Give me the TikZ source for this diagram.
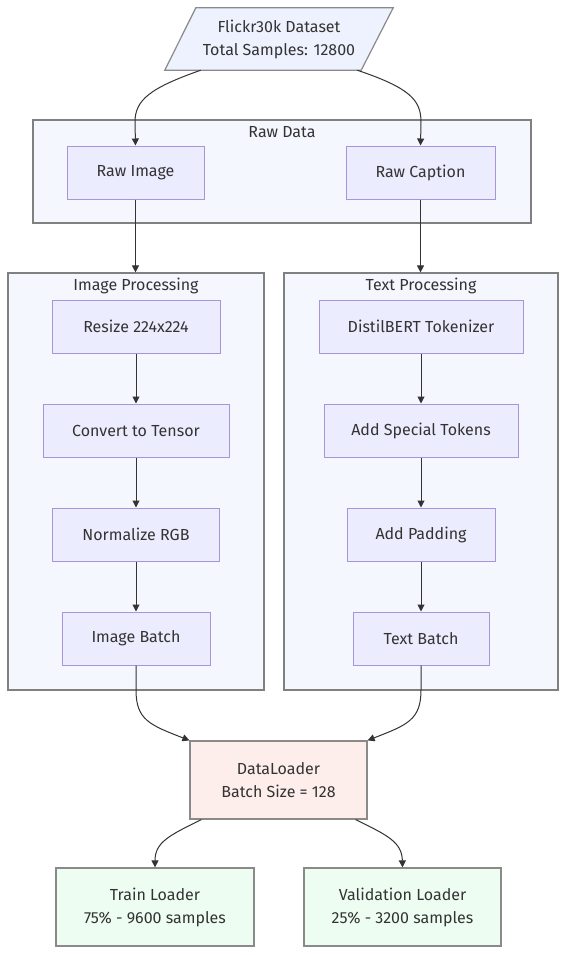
\documentclass[tikz,border=0pt]{standalone}
\usepackage{fontspec}
\setmainfont{Fira Sans}
\usetikzlibrary{arrows.meta,calc}
\definecolor{txt}{HTML}{333333}
\definecolor{nodefill}{HTML}{ECECFF}
\definecolor{nodeline}{HTML}{A795DC}
\definecolor{clfill}{HTML}{F5F7FF}
\definecolor{clline}{HTML}{808080}
\definecolor{dsfill}{HTML}{EDF2FE}
\definecolor{dlfill}{HTML}{FDEEEC}
\definecolor{grfill}{HTML}{EEFDF1}
\definecolor{grayline}{HTML}{8A8A8A}
\definecolor{edge}{HTML}{333333}
\begin{document}
\begin{tikzpicture}[x=1pt,y=-1pt,
  every node/.style={font=\fontsize{16}{23}\selectfont, text=txt, align=center, inner sep=0pt},
  proc/.style={draw=nodeline, fill=nodefill, line width=1pt, minimum height=53},
  cluster/.style={draw=clline, fill=clfill, line width=1.2pt},
  bigbox/.style={draw=grayline, line width=1.2pt, minimum height=78},
  conn/.style={draw=edge, line width=1pt, -{Triangle[length=7pt,width=7pt]}}
]
\useasboundingbox (0,0) rectangle (567,955);
\fill[white] (0,0) rectangle (567,955);

% clusters
\node[cluster, minimum width=498, minimum height=103] (rawc) at (282,171.5) {};
\node (rawt) at (282,132) {Raw Data};
\node[cluster, minimum width=256, minimum height=417] (imgc) at (136,481.5) {};
\node (imgt) at (136,286) {Image Processing};
\node[cluster, minimum width=274, minimum height=417] (txtc) at (421,481.5) {};
\node (txtt) at (421,286) {Text Processing};

% dataset parallelogram
\node (ds) [minimum width=196, minimum height=62] at (279,39) {};
\draw[draw=grayline, fill=dsfill, line width=1.2pt]
  ($(ds.south west)+(-16,0)$) -- ($(ds.north west)+(15,0)$) -- ($(ds.north east)+(16,0)$) -- ($(ds.south east)+(-16,0)$) -- cycle;
\node (dstext) at (ds.center) {Flickr30k Dataset\\Total Samples: 12800};

% raw data nodes
\node[proc, minimum width=137] (ri) at (135.5,172.5) {Raw Image};
\node[proc, minimum width=149] (rc) at (420.5,172.5) {Raw Caption};

% image processing
\node[proc, minimum width=168] (rs) at (136,326.5) {Resize 224x224};
\node[proc, minimum width=186] (ct) at (136,430.5) {Convert to Tensor};
\node[proc, minimum width=167] (nr) at (136,534.5) {Normalize RGB};
\node[proc, minimum width=148] (ib) at (136,638.5) {Image Batch};

% text processing
\node[proc, minimum width=204] (tk) at (421,326.5) {DistilBERT Tokenizer};
\node[proc, minimum width=194] (st) at (421,430.5) {Add Special Tokens};
\node[proc, minimum width=148] (pd) at (421,534.5) {Add Padding};
\node[proc, minimum width=136] (tb) at (421,638.5) {Text Batch};

% dataloader and outputs
\node[bigbox, fill=dlfill, minimum width=177] (dl) at (278.5,780) {DataLoader\\Batch Size = 128};
\node[bigbox, fill=grfill, minimum width=198] (tr) at (155,907) {Train Loader\\75\% - 9600 samples};
\node[bigbox, fill=grfill, minimum width=197] (vl) at (402.5,907) {Validation Loader\\25\% - 3200 samples};

% edges
\draw[conn] ($(ds.south west)+(20,0)$) .. controls (150,88) and (135,100) .. (135,122) -- (ri.north);
\draw[conn] ($(ds.south east)+(-20,0)$) .. controls (410,88) and (421,100) .. (421,122) -- (rc.north);
\draw[conn] (ri.south) -- (ri.south |- imgc.north);
\draw[conn] (rc.south) -- (rc.south |- txtc.north);
\draw[conn] (rs.south) -- (ct.north);
\draw[conn] (ct.south) -- (nr.north);
\draw[conn] (nr.south) -- (ib.north);
\draw[conn] (tk.south) -- (st.north);
\draw[conn] (st.south) -- (pd.north);
\draw[conn] (pd.south) -- (tb.north);
\draw[conn] (ib.south) -- (136,690) .. controls (136,720) and (150,725) .. (dl.north west);
\draw[conn] (tb.south) -- (421,690) .. controls (421,720) and (407,725) .. (dl.north east);
\draw[conn] ($(dl.south west)+(12,0)$) .. controls (170,835) and (155,842) .. (tr.north);
\draw[conn] ($(dl.south east)+(-12,0)$) .. controls (387,835) and (402,842) .. (vl.north);
\end{tikzpicture}
\end{document}
